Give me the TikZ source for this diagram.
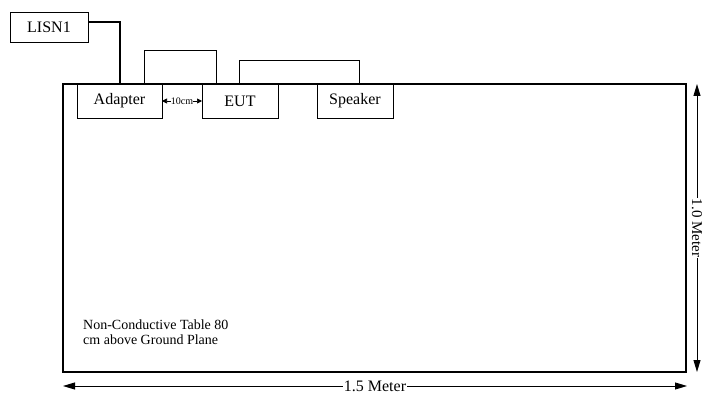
\documentclass[tikz,border=0pt]{standalone}
\usepackage{fontspec}
\setmainfont{Liberation Serif}
\usetikzlibrary{arrows.meta,calc}
\begin{document}
\begin{tikzpicture}[x=1pt,y=-1pt,
  box/.style={draw,line width=0.9pt,inner sep=0pt,outer sep=0pt,
    font=\fontsize{16}{19}\selectfont},
  cable/.style={line width=2pt},
  wire/.style={line width=0.9pt},
  dim/.style={line width=0.9pt,{Triangle[length=12pt,width=7pt]}-{Triangle[length=12pt,width=7pt]}},
  smalldim/.style={line width=0.7pt,{Triangle[length=5pt,width=5pt]}-{Triangle[length=5pt,width=5pt]}},
  lbl/.style={fill=white,inner sep=1pt,font=\fontsize{16}{19}\selectfont}]
\useasboundingbox (0,0) rectangle (705,401);
% table
\node[draw,line width=2.4pt,minimum width=623pt,minimum height=288pt,inner sep=0pt,outer sep=0pt]
  (table) at (374.5,228) {};
% boxes
\node[box,minimum width=78pt,minimum height=30pt] (lisn) at (49,27) {LISN1};
\node[box,minimum width=85pt,minimum height=34pt] (adapter) at (119.5,101) {Adapter};
\node[box,minimum width=76pt,minimum height=34pt] (eut) at (240,101) {EUT};
\node[box,minimum width=76pt,minimum height=34pt] (speaker) at (355,101) {Speaker};
% cables
\draw[cable] ([yshift=5pt]lisn.east) -| (adapter.north);
\draw[wire] ([xshift=-18pt]adapter.north east) -- ++(0,-34) -| ([xshift=14pt]eut.north west);
\draw[wire] ([xshift=-1pt]eut.north) -- ++(0,-24) -| ([xshift=4pt]speaker.north);
% 10cm
\draw[smalldim] (adapter.east) -- (eut.west)
  node[midway,fill=white,inner sep=0.3pt,font=\fontsize{10}{12}\selectfont] (tencm) {10cm};
% table text
\node[anchor=north west,align=left,inner sep=0pt,font=\fontsize{14}{15}\selectfont]
  (tabletext) at (83,320) {Non-Conductive Table 80\\cm above Ground Plane};
% dimensions
\draw[dim] ([xshift=11pt]table.north east) -- ([xshift=11pt]table.south east)
  node[midway,rotate=-90,fill=white,inner sep=0.5pt,font=\fontsize{15}{18}\selectfont] (vlabel) {1.0 Meter};
\draw[dim] ([yshift=-14pt]table.south west) -- ([yshift=-14pt,xshift=1pt]table.south east)
  node[midway,lbl] (hlabel) {1.5 Meter};
\end{tikzpicture}
\end{document}
